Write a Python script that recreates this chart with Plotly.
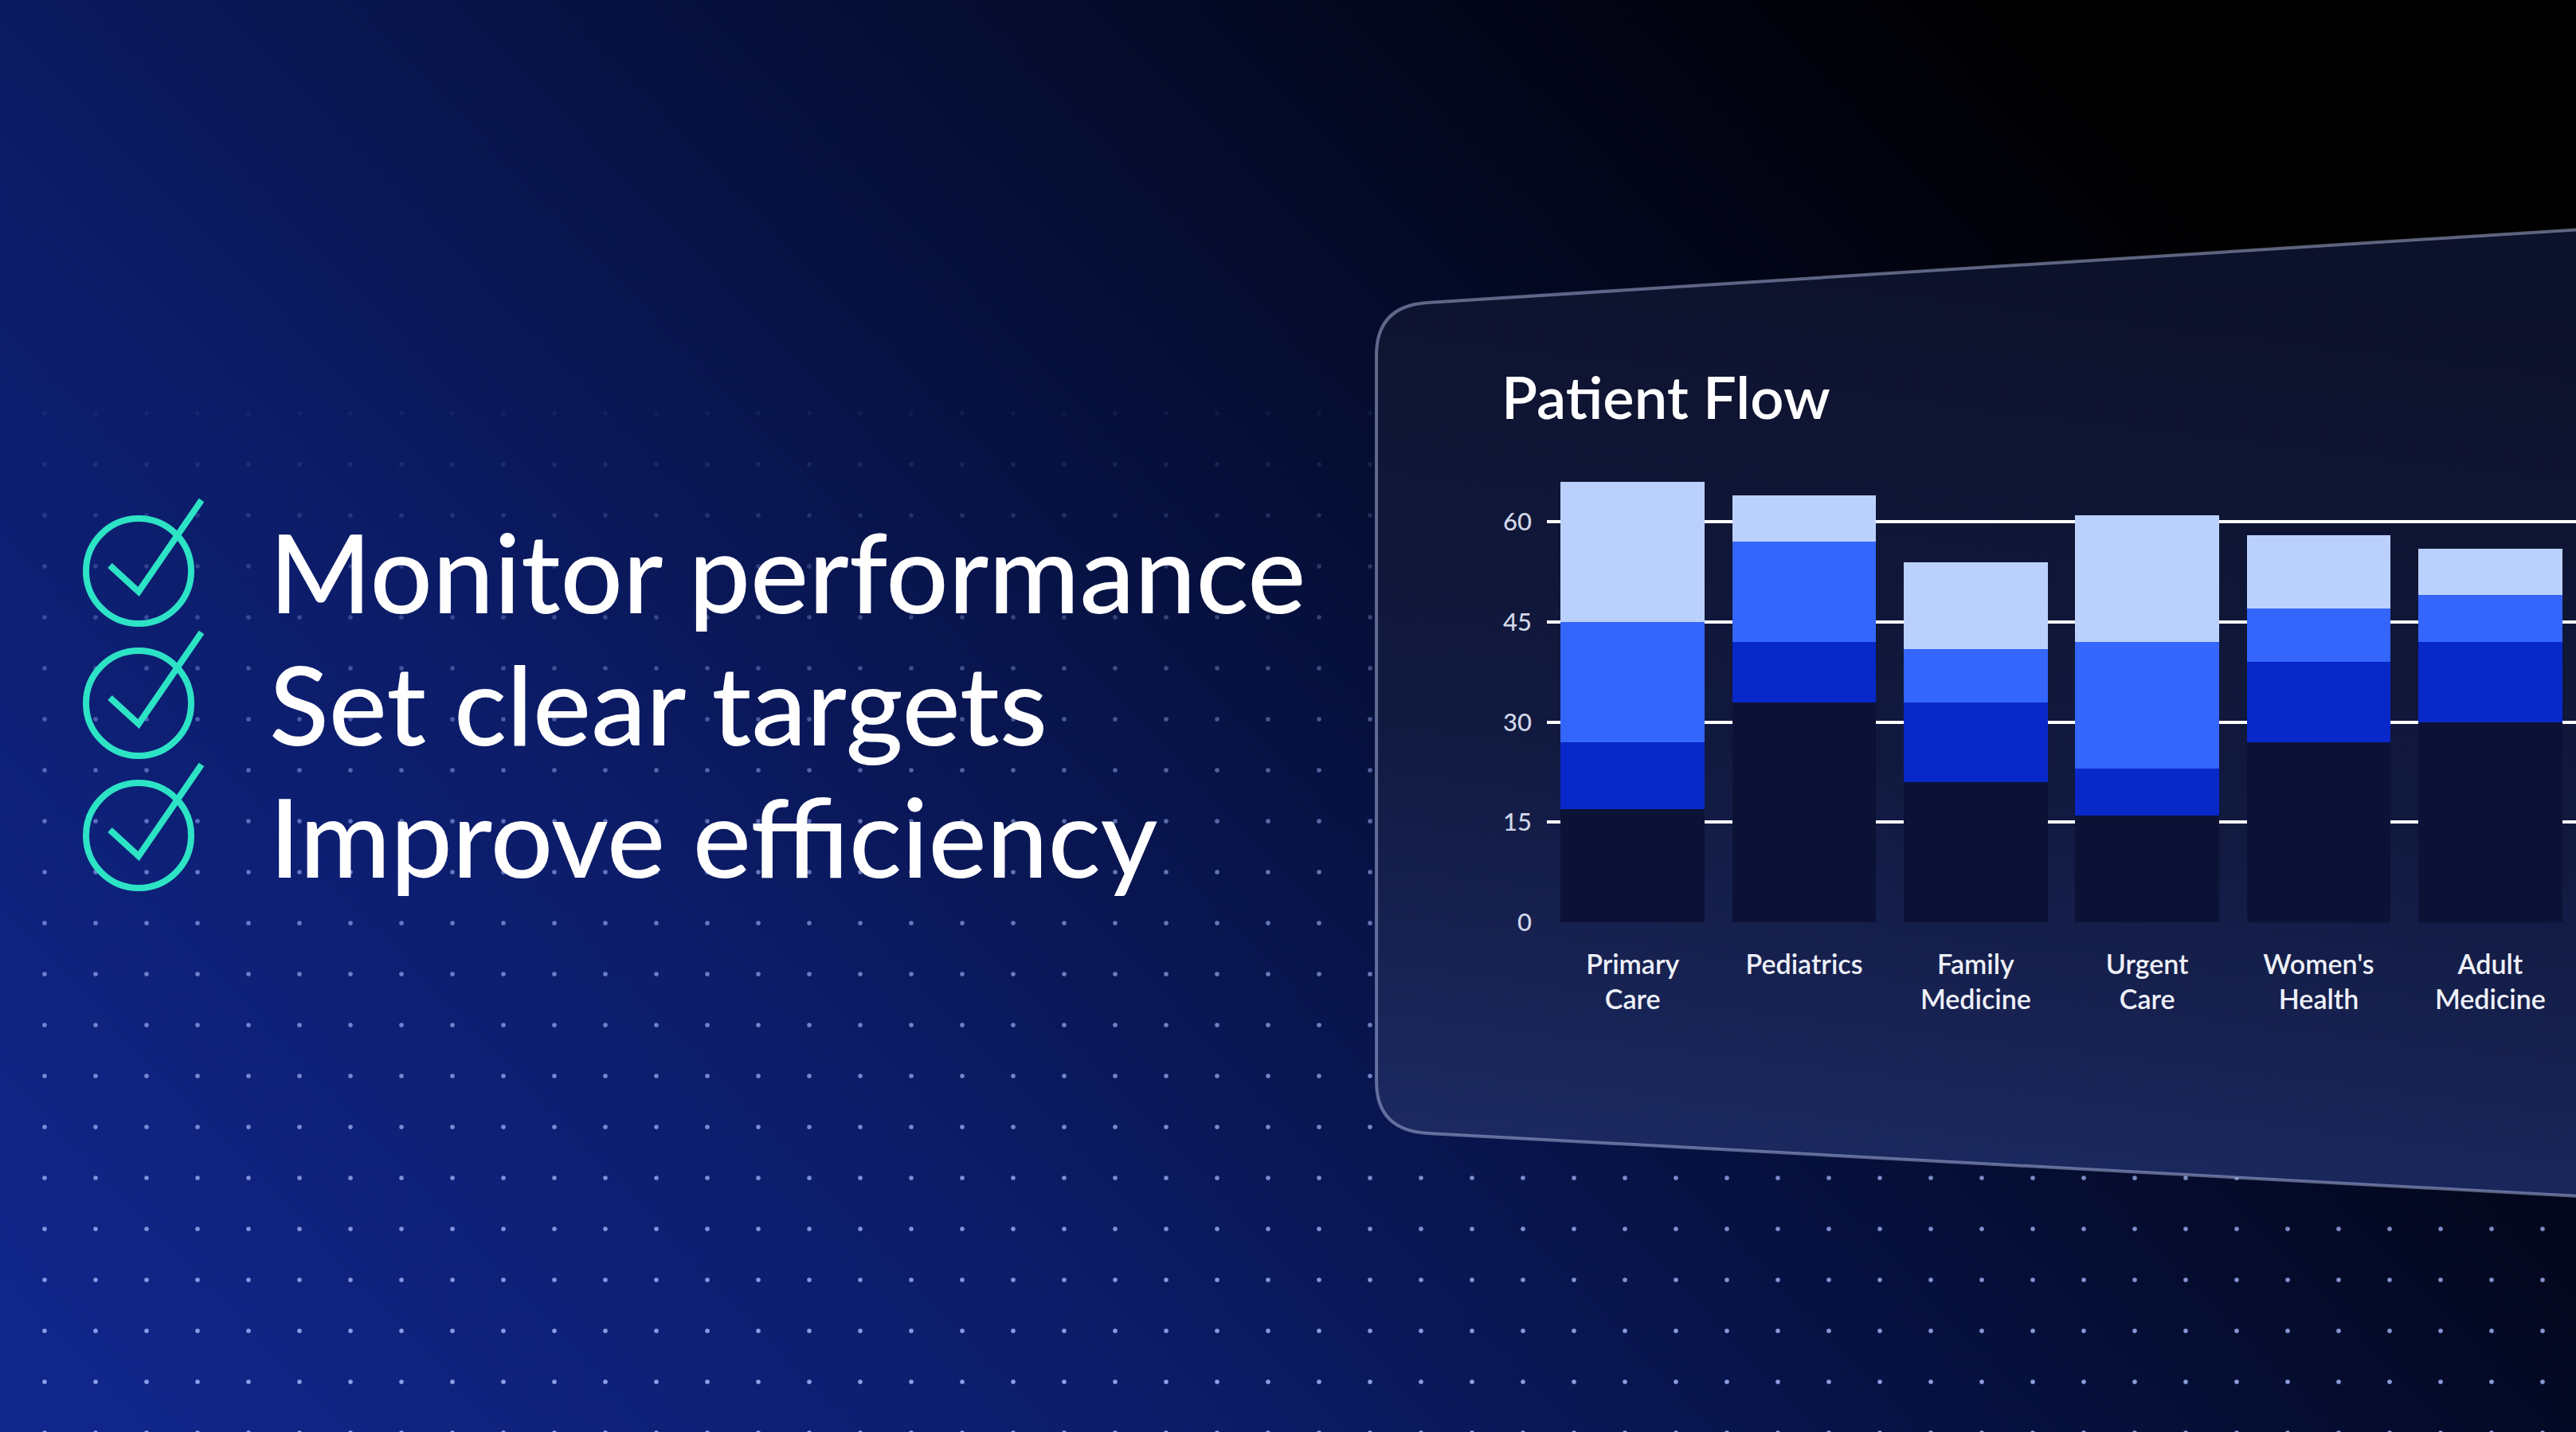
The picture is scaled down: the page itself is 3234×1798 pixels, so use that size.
import base64
import plotly.graph_objects as go

# chart data
categories = ["Primary<br>Care", "Pediatrics", "Family<br>Medicine",
              "Urgent<br>Care", "Women's<br>Health", "Adult<br>Medicine"]
base_vals = [17, 33, 21, 16, 27, 30]
dark_vals = [10, 9, 12, 7, 12, 12]
mid_vals = [18, 15, 8, 19, 8, 7]
light_vals = [21, 7, 13, 19, 11, 7]
y_ticks = [0, 15, 30, 45, 60]

bullets = ["Monitor performance", "Set clear targets", "Improve efficiency"]

W, H = 3234, 1798

# decorative backdrop: gradient, dot grid, panel, check icons
checks = ""
for cy in (717, 883, 1049):
    checks += ('<circle cx="174" cy="%d" r="66" fill="none" stroke="#2de3c5" stroke-width="8"/>'
               '<polyline points="138,%d 174,%d 253,%d" fill="none" stroke="#2de3c5" '
               'stroke-width="8" stroke-linejoin="miter"/>' % (cy, cy - 7, cy + 26, cy - 89))

svg = f'''<svg xmlns="http://www.w3.org/2000/svg" width="{W}" height="{H}" viewBox="0 0 {W} {H}" preserveAspectRatio="none">
<defs>
<linearGradient id="bg" gradientUnits="userSpaceOnUse" x1="150" y1="1798" x2="2300" y2="-250">
<stop offset="0" stop-color="#10268a"/>
<stop offset="0.33" stop-color="#0c1c68"/>
<stop offset="0.6" stop-color="#06103c"/>
<stop offset="0.85" stop-color="#020516"/>
<stop offset="1" stop-color="#000000"/>
</linearGradient>
<pattern id="dots" patternUnits="userSpaceOnUse" width="64" height="64">
<circle cx="56" cy="7" r="2.8" fill="#a8bbff"/>
</pattern>
<linearGradient id="fade" gradientUnits="userSpaceOnUse" x1="0" y1="450" x2="0" y2="1798">
<stop offset="0" stop-color="#fff" stop-opacity="0"/>
<stop offset="0.45" stop-color="#fff" stop-opacity="0.55"/>
<stop offset="1" stop-color="#fff" stop-opacity="0.85"/>
</linearGradient>
<mask id="m"><rect width="{W}" height="{H}" fill="url(#fade)"/></mask>
<linearGradient id="panel" gradientUnits="userSpaceOnUse" x1="2400" y1="300" x2="2250" y2="1500">
<stop offset="0" stop-color="#0d122b"/>
<stop offset="0.55" stop-color="#11193f"/>
<stop offset="1" stop-color="#1c2a62"/>
</linearGradient>
</defs>
<rect width="{W}" height="{H}" fill="url(#bg)"/>
<rect width="{W}" height="{H}" fill="url(#dots)" mask="url(#m)"/>
<path d="M1728,446 Q1728,384 1792,380 L3240,288 L3240,1502 L1792,1423 Q1728,1419 1728,1358 Z"
 fill="url(#panel)" stroke="#b4bee6" stroke-opacity="0.5" stroke-width="4"/>
{checks}
</svg>'''
bg_src = "data:image/svg+xml;base64," + base64.b64encode(svg.encode()).decode()

fig = go.Figure()
for name, vals, col in [("Base", base_vals, "#0c1236"),
                        ("Level 2", dark_vals, "#0828c9"),
                        ("Level 3", mid_vals, "#3466fc"),
                        ("Level 4", light_vals, "#bbd1fd")]:
    fig.add_trace(go.Bar(x=categories, y=vals, name=name,
                         marker=dict(color=col, line=dict(width=0))))

for i, txt in enumerate(bullets):
    fig.add_annotation(text=txt, xref="paper", yref="paper",
                       x=336 / W, y=[0.6017, 0.5094, 0.4171][i],
                       xanchor="left", yanchor="middle", showarrow=False,
                       font=dict(family="Lato", size=138, color="#ffffff", weight=500))

fig.update_layout(
    width=W, height=H,
    margin=dict(l=0, r=0, t=0, b=0, autoexpand=False),
    paper_bgcolor="#0d1f6e",
    plot_bgcolor="rgba(45,60,120,0.22)",
    barmode="stack",
    bargap=0.16,
    showlegend=False,
    font=dict(family="Lato", color="#e6e9f4"),
    title=dict(text="Patient Flow", x=1885 / W, xanchor="left",
               y=1 - 500 / H, yanchor="middle",
               font=dict(family="Lato", size=74, color="#ffffff", weight=600)),
    images=[dict(source=bg_src, xref="paper", yref="paper", x=0, y=1,
                 sizex=1, sizey=1, xanchor="left", yanchor="top",
                 sizing="stretch", layer="below")],
    xaxis=dict(domain=[0.6005, 1.0], range=[-0.5, 5.5], showgrid=False,
               zeroline=False, showline=False, ticks="", automargin=False,
               ticklabelstandoff=30,
               tickfont=dict(family="Lato", size=34, color="#eef0f8", weight=600)),
    yaxis=dict(domain=[0.3559, 0.6635], range=[0, 66], tickvals=y_ticks,
               showgrid=True, gridcolor="#ffffff", gridwidth=4,
               zeroline=False, showline=False, ticks="", automargin=False,
               ticklabelstandoff=18,
               tickfont=dict(family="Lato", size=31, color="#d3d8ea", weight=500)),
)

fig.write_html("out.html", config={"displayModeBar": False},
               post_script="document.body.style.margin='0';"
                           "document.body.style.overflow='hidden';"
                           "document.documentElement.style.background='#0d1f6e';"
                           "document.body.style.background='#0d1f6e';")
